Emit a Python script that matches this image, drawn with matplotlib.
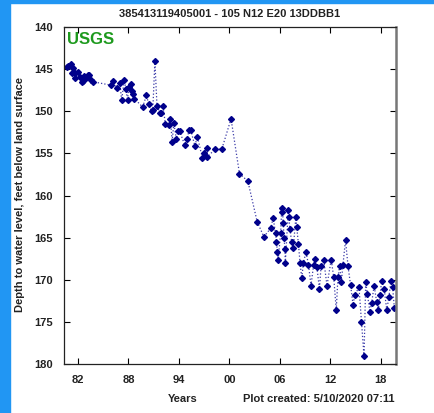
import matplotlib
matplotlib.use("Agg")
import matplotlib.pyplot as plt
from matplotlib.patches import Rectangle

years = [1980.66, 1980.8, 1981.2, 1981.25, 1981.4, 1981.6, 1981.7, 1982.0, 1982.2, 1982.5,
         1982.6, 1982.7, 1982.95, 1983.2, 1983.3, 1983.6, 1983.8,
         1985.9, 1986.2, 1986.6, 1987.0, 1987.2, 1987.5, 1987.7, 1987.9, 1988.05, 1988.3,
         1988.4, 1988.6, 1988.7,
         1989.7, 1990.15, 1990.4, 1990.75, 1990.9, 1991.15, 1991.4, 1991.75, 1991.9, 1992.1,
         1992.4, 1992.8, 1993.0, 1993.2, 1993.4, 1993.7, 1993.9, 1994.1, 1994.7, 1995.0,
         1995.2, 1995.4, 1995.9, 1996.2, 1996.8, 1997.0, 1997.3, 1997.4, 1998.3, 1999.1,
         2000.2, 2001.2, 2002.2,
         2003.3, 2004.1, 2004.9, 2005.2, 2005.5, 2005.6, 2005.7, 2005.8, 2006.1, 2006.2,
         2006.3, 2006.4, 2006.5, 2006.6, 2006.65, 2007.0, 2007.05, 2007.2, 2007.4, 2007.6,
         2007.9, 2008.0, 2008.2, 2008.4, 2008.6, 2008.8, 2009.1, 2009.4, 2009.7, 2010.0,
         2010.2, 2010.4, 2010.7, 2010.9, 2011.2, 2011.6, 2012.1, 2012.4, 2012.7, 2012.9,
         2013.1, 2013.3, 2013.5, 2013.8, 2014.1, 2014.4, 2014.7, 2014.9, 2015.4, 2015.7,
         2016.0, 2016.2, 2016.4, 2016.7, 2016.9, 2017.2, 2017.5, 2017.7, 2017.9, 2018.1,
         2018.4, 2018.7, 2018.95, 2019.2, 2019.4, 2019.6]
depth = [144.8, 144.6, 144.4, 145.5, 144.9, 145.5, 146.1, 145.3, 145.9, 146.5,
         146.4, 145.8, 146.1, 145.7, 145.7, 146.3, 146.5,
         146.9, 146.4, 147.2, 146.7, 148.7, 146.3, 147.3, 148.7, 147.1, 146.8,
         147.6, 147.9, 148.5,
         149.5, 148.1, 149.1, 150.0, 149.9, 144.0, 149.4, 150.2, 150.2, 149.4,
         151.5, 151.6, 150.9, 153.6, 151.4, 153.3, 152.4, 152.4, 154.0, 153.3,
         152.2, 152.2, 154.1, 153.0, 155.6, 154.9, 154.4, 155.4, 154.5, 154.5,
         150.9, 157.4, 158.3,
         163.1, 164.9, 163.9, 162.7, 164.5, 165.5, 166.7, 167.6, 164.4, 162.0,
         161.5, 163.3, 165.1, 166.3, 168.0, 161.7, 162.5, 164.0, 165.5, 166.2,
         162.5, 163.7, 165.7, 168.0, 169.8, 168.0, 166.7, 168.2, 170.7, 168.3,
         167.5, 168.5, 171.1, 168.4, 167.6, 170.7, 167.6, 169.7, 173.6, 169.7,
         168.4, 170.3, 168.2, 165.3, 168.4, 170.6, 173.0, 171.8, 170.9, 175.0,
         179.1, 170.3, 171.7, 173.8, 172.8, 170.7, 172.6, 173.6, 171.8, 170.1,
         171.1, 173.6, 172.1, 170.1, 170.9, 173.3]

xtick_pos = [1982, 1988, 1994, 2000, 2006, 2012, 2018]
xtick_labels = ["82", "88", "94", "00", "06", "12", "18"]
ytick_pos = [140, 145, 150, 155, 160, 165, 170, 175, 180]

plt.rcParams['font.family'] = ['Liberation Sans', 'DejaVu Sans']

fig = plt.figure(figsize=(4.35, 4.13), dpi=100)
fig.patches.append(Rectangle((0, 0), 10/435, 1, transform=fig.transFigure,
                             color='#2196F3', zorder=0))
fig.patches.append(Rectangle((0, 1 - 3/413), 1, 3/413, transform=fig.transFigure,
                             color='#2196F3', zorder=0))

ax = fig.add_axes([64/435, 1 - 364/413, (396 - 64)/435, (364 - 27)/413])
ax.plot(years, depth, linestyle=':', color='#3a3aa8', linewidth=0.9)
ax.plot(years, depth, linestyle='none', marker='D', markersize=3.0,
        markerfacecolor='#00008B', markeredgecolor='#00008B')

ax.set_xlim(1980.35, 2019.8)
ax.set_ylim(180, 140)
ax.set_xticks(xtick_pos)
ax.set_xticklabels(xtick_labels)
ax.set_yticks(ytick_pos)
ax.tick_params(direction='in', length=4, top=True, right=True, labelsize=8,
               width=0.8, pad=8)
for lab in ax.get_xticklabels() + ax.get_yticklabels():
    lab.set_fontweight('bold')
    lab.set_color('#222222')
for s in ['left', 'top', 'bottom']:
    ax.spines[s].set_color('#222222')
    ax.spines[s].set_linewidth(0.9)
ax.spines['right'].set_color('#777777')
ax.spines['right'].set_linewidth(1.8)

ax.text(0.01, 0.985, "USGS", transform=ax.transAxes, color='#1E9A1E',
        fontsize=12, fontweight='bold', va='top', ha='left')

fig.text(230/435, 1 - 14/413, "385413119405001 - 105 N12 E20 13DDBB1",
         ha='center', va='center', fontsize=8, fontweight='bold', color='#222222')
fig.text(20/435, 1 - 195/413, "Depth to water level, feet below land surface",
         rotation=90, ha='center', va='center', fontsize=8, fontweight='bold',
         color='#222222')
fig.text(183/435, 1 - 399/413, "Years", ha='center', va='center', fontsize=8,
         fontweight='bold', color='#222222')
fig.text(243/435, 1 - 399/413, "Plot created: 5/10/2020 07:11", ha='left',
         va='center', fontsize=8, fontweight='bold', color='#222222')

fig.savefig("out.png", dpi=100)
